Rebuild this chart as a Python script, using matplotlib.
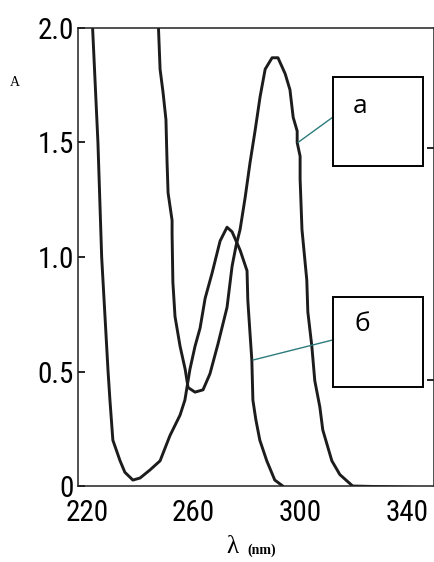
import matplotlib
matplotlib.use("Agg")
import matplotlib.pyplot as plt
from matplotlib import font_manager
from matplotlib.font_manager import FontProperties
from matplotlib.patches import Rectangle

# ---- data ----
wl_b = [222.1, 224.1, 225.5, 227.9, 228.6, 229.7, 232.4, 234.2, 237.2, 239.9,
        243.6, 247.4, 251.1, 254.9, 256.7, 258.6, 260.5, 262.4, 264.3, 266.9,
        269.9, 272.5, 274.4, 277.4, 280.0, 280.3, 281.1, 281.8, 282.2, 283.3,
        284.8, 287.4, 290.4, 293.4]
abs_b = [2.0, 1.50, 1.0, 0.50, 0.375, 0.20, 0.11, 0.06, 0.026, 0.035,
         0.07, 0.11, 0.22, 0.31, 0.375, 0.51, 0.61, 0.69, 0.82, 0.93,
         1.07, 1.13, 1.11, 1.03, 0.94, 0.81, 0.67, 0.55, 0.375, 0.29,
         0.20, 0.11, 0.026, 0.0]

wl_a = [246.8, 247.4, 248.5, 249.6, 250.0, 250.4, 251.9, 251.9, 252.2, 253.0,
        254.9, 256.8, 257.9, 260.5, 263.5, 266.1, 269.1, 272.5, 274.4, 275.9,
        277.4, 279.3, 281.1, 283.0, 284.9, 286.8, 289.4, 291.6, 294.3, 296.1,
        297.3, 298.8, 298.8, 299.9, 299.9, 300.6, 302.4, 302.8, 304.3, 305.4,
        307.3, 308.4, 311.8, 314.8, 319.6, 350.3]
abs_a = [2.0, 1.82, 1.72, 1.60, 1.42, 1.28, 1.16, 1.10, 0.89, 0.74,
         0.61, 0.51, 0.43, 0.41, 0.42, 0.49, 0.62, 0.78, 0.96, 1.05,
         1.12, 1.26, 1.41, 1.55, 1.70, 1.82, 1.87, 1.87, 1.80, 1.73,
         1.61, 1.55, 1.50, 1.44, 1.34, 1.12, 0.90, 0.76, 0.61, 0.46,
         0.345, 0.245, 0.11, 0.05, 0.0, -0.008]

x_ticks = [220, 260, 300, 340]
y_ticks = [0, 0.5, 1.0, 1.5, 2.0]
y_tick_labels = ["0", "0.5", "1.0", "1.5", "2.0"]
right_ticks = [1.476, 0.463]

label_a = "a"
label_b = "б"
point_a = (299.1, 1.50)
text_a = (312.2, 1.611)
point_b = (282.2, 0.55)
text_b = (312.2, 0.638)

# ---- fonts ----
tick_fp = None
cands = []
for f in font_manager.fontManager.ttflist:
    nm = f.name
    fn = f.fname.lower()
    if f.style != "normal" or f.weight not in (400, "normal", "regular"):
        continue
    if "mono" in fn or "serif" in fn and "sans" not in fn:
        continue
    if "narrow" in nm.lower() or "narrow" in fn or "condensed" in fn or \
            (isinstance(f.stretch, str) and "condensed" in f.stretch):
        cands.append(f)
pref = ["liberation", "roboto", "open", "noto", "dejavu"]
cands.sort(key=lambda f: next((i for i, p in enumerate(pref) if p in f.fname.lower()), 99))
if cands:
    tick_fp = FontProperties(fname=cands[0].fname, size=21)
    tick_size = 21
else:
    tick_fp = FontProperties(family="Liberation Sans", size=18)
    tick_size = 18

serif_font = "Liberation Serif"
box_font = "Open Sans"

fig = plt.figure(figsize=(4.35, 5.62), dpi=100)
ax = fig.add_axes([0.1793, 0.1352, 0.9977 - 0.1793, 0.9502 - 0.1352])

line_col = "#1c1c1c"
ax.plot(wl_b, abs_b, color=line_col, lw=2.1, solid_joinstyle="round", solid_capstyle="round")
ax.plot(wl_a, abs_a, color=line_col, lw=2.1, solid_joinstyle="round", solid_capstyle="round")

ax.set_xlim(216.625, 350.1)
ax.set_ylim(0, 2.0)

for s in ax.spines.values():
    s.set_linewidth(1.1)
    s.set_color("#222222")

ax.set_xticks(x_ticks)
ax.set_xticklabels([str(v) for v in x_ticks], fontproperties=tick_fp)
ax.tick_params(axis="x", length=0, pad=9)
ax.set_yticks(y_ticks)
ax.set_yticklabels(y_tick_labels, fontproperties=tick_fp)
ax.tick_params(axis="y", direction="in", length=5, width=1.2, pad=3)

sec = ax.secondary_yaxis("right")
sec.set_yticks(right_ticks)
sec.set_yticklabels(["", ""])
sec.tick_params(direction="in", length=5, width=1.2)
sec.spines["right"].set_visible(False)

# axis labels
fig.text(15 / 435, 1 - 83 / 562, "A", family=serif_font, fontsize=10, ha="center", va="center")
fig.text(232 / 435, 1 - 547 / 562, "λ", family=serif_font, fontsize=18, ha="center", va="center")
fig.text(262 / 435, 1 - 550 / 562, "(nm)", family=serif_font, fontsize=10, weight="bold", ha="center", va="center")

# annotation boxes
teal = "#2e7b7b"
ax.annotate("", xy=point_a, xytext=text_a,
            arrowprops=dict(arrowstyle="-", color=teal, lw=1.0, shrinkA=0, shrinkB=0))
ax.annotate("", xy=point_b, xytext=text_b,
            arrowprops=dict(arrowstyle="-", color=teal, lw=1.0, shrinkA=0, shrinkB=0))

for (y0, y1) in [(0.699, 0.893), (0.216, 0.413)]:
    ax.add_patch(Rectangle((0.716, y0), 0.969 - 0.716, y1 - y0, transform=ax.transAxes,
                           facecolor="white", edgecolor="black", lw=1.4, zorder=5))

ax.text(0.792, 0.828, label_a, transform=ax.transAxes, fontsize=19, family=box_font,
        ha="center", va="center", zorder=6)
ax.text(0.798, 0.352, label_b, transform=ax.transAxes, fontsize=19, family=box_font,
        ha="center", va="center", zorder=6)

fig.savefig("out.png", dpi=100, facecolor="white")
